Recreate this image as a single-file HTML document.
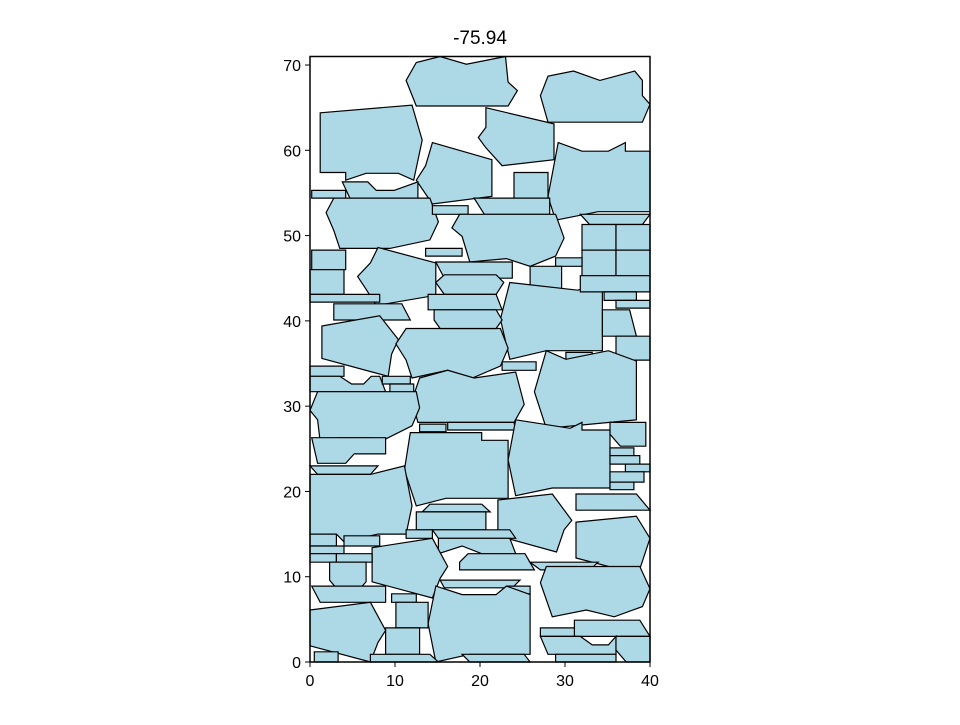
<!DOCTYPE html>
<html><head><meta charset="utf-8"><style>
html,body{margin:0;padding:0;background:#fff;}
svg text{font-family:"Liberation Sans","DejaVu Sans",sans-serif;}
</style></head><body>
<svg id="chart" width="960" height="720" viewBox="0 0 960 720" xmlns="http://www.w3.org/2000/svg">
<rect width="960" height="720" fill="#fff"/>
<text x="480" y="44" font-size="19" text-anchor="middle">-75.94</text>
<g id="polys"></g>
<g id="axes"></g>
</svg>
<script>
const xTicks=[0,10,20,30,40];
const yTicks=[0,10,20,30,40,50,60,70];
const xDomain=[0,40];
const yDomain=[0,71];
const polygons=[
[[11.3,68.2],[12.5,70.3],[15.3,71],[18.4,70.1],[23,71],[23.3,68],[24.4,67],[23.3,65.2],[12.5,65.2]],
[[27.1,66.4],[28,68.7],[31,69.3],[34.1,68.2],[38.2,69.3],[39.1,68.2],[39.1,66.4],[40,65.4],[39.1,63.3],[28,63.3]],
[[1.2,64.4],[12,65.3],[13.2,61.2],[12.2,56.5],[10.4,57.3],[6.6,57.3],[4.2,56.5],[4.2,57.4],[1.2,57.4]],
[[20.7,65],[28.7,63.1],[28.7,58.9],[22.6,58.2],[20.7,60.3],[19.8,61.5],[20.7,62.7]],
[[14.4,60.9],[21.4,58.9],[21.4,54.6],[14.4,53.7],[12.5,56.5],[13.6,58.2]],
[[29.2,60.9],[32,59.9],[35.1,59.9],[37.1,60.9],[37.1,59.9],[40,59.9],[40,52.8],[33.9,52.8],[28.9,51.8],[28,54.6]],
[[24,57.4],[28,57.4],[28,54.4],[24,54.4]],
[[0.2,55.3],[4.2,55.3],[4.2,54.4],[0.2,54.4]],
[[3.8,56.3],[6.8,56.3],[7.8,55.3],[9.9,55.3],[12.7,56.3],[12.7,54.4],[4.7,54.4]],
[[2.8,54.4],[14.1,54.4],[15.1,51.6],[14.1,49.5],[9.4,48.5],[3.5,48.5],[2.8,50.6],[1.9,52.7]],
[[14.4,53.5],[18.6,53.5],[18.6,52.5],[14.4,52.5]],
[[19.3,54.4],[28.2,54.4],[28.2,52.5],[20.5,52.5]],
[[17.6,52.5],[28.9,52.5],[29.9,49.7],[28.9,47.6],[25.9,46.4],[23.1,47.3],[18.8,46.9],[17.9,49.9],[16.7,50.9]],
[[31.8,52.5],[40,52.5],[39.1,51.3],[32.9,51.3]],
[[32,51.3],[36,51.3],[36,48.3],[32,48.3]],
[[36,51.3],[40,51.3],[40,48.3],[36,48.3]],
[[32,48.3],[36,48.3],[36,45.3],[32,45.3]],
[[36,48.3],[40,48.3],[40,45.3],[36,45.3]],
[[0.2,48.3],[4.2,48.3],[4.2,46],[0.2,46]],
[[0,46],[4,46],[4,43.1],[0,43.1]],
[[8,48.6],[14.8,46.8],[14.8,43],[7.8,41.8],[6.6,43.7],[5.6,45.2],[7.1,46.8]],
[[13.6,48.5],[17.9,48.5],[17.9,47.6],[13.6,47.6]],
[[28.9,47.4],[32,47.4],[32,46.4],[28.9,46.4]],
[[14.8,46.9],[23.8,46.9],[23.8,45],[15.8,45]],
[[25.9,46.4],[29.6,46.4],[29.6,43.4],[25.9,43.4]],
[[14.8,44.5],[15.8,45.4],[21.9,45.4],[22.8,44.5],[21.9,43.1],[15.8,43.1]],
[[13.9,43.1],[21.9,43.1],[22.6,41.3],[13.9,41.3]],
[[23.5,44.5],[31.5,43.6],[34.4,44.5],[34.4,36.5],[27.8,36.5],[23.5,35.5],[22.4,40.2]],
[[31.8,45.3],[40,45.3],[40,43.4],[31.8,43.4]],
[[34.6,43.4],[38.4,43.4],[38.4,42.4],[34.6,42.4]],
[[36,42.4],[40,42.4],[40,41.5],[36,41.5]],
[[0,43.1],[8.2,43.1],[8.2,42.2],[0,42.2]],
[[2.8,42],[10.8,42],[11.8,40.1],[2.8,40.1]],
[[1.4,39.4],[8.2,40.6],[10.4,37.8],[9.6,36.1],[9.2,33.5],[7.3,34],[1.4,35.6]],
[[11.3,39.1],[22.4,39.1],[23.3,36.8],[22.4,34.7],[19.1,33.3],[16.2,34.2],[12,33.3],[11.3,35.4],[10.1,37.3]],
[[14.6,41.3],[21.9,41.3],[22.6,40.1],[21.9,39.1],[15.3,39.1],[14.6,40.1]],
[[34.4,41.3],[37.6,41.3],[38.4,38.2],[34.4,38.2]],
[[36,38.2],[40,38.2],[40,35.4],[36,35.4]],
[[30.1,36.3],[33.2,36.3],[33.2,35.4],[30.1,35.4]],
[[22.6,35.2],[26.6,35.2],[26.6,34.2],[22.6,34.2]],
[[27.8,36.5],[30.1,35.5],[35.1,36.5],[38.4,35.3],[38.4,28.4],[27.8,27.4],[26.4,31.7]],
[[0,34.7],[4,34.7],[4,33.5],[0,33.5]],
[[0,33.5],[3.5,33.5],[4.9,32.6],[6.3,32.6],[7.2,33.5],[8.2,33.5],[8.9,31.7],[0,31.7]],
[[8.5,33.5],[11.8,33.5],[11.8,32.6],[8.5,32.6]],
[[9.4,32.6],[12.2,32.6],[12.2,31.4],[9.4,31.4]],
[[12.9,33.3],[16.2,34.2],[19.3,33.3],[24.2,34],[25.2,30.2],[24,28.1],[12.7,28.1],[12,30.7]],
[[0.9,31.7],[12.5,31.7],[12.9,29.8],[12,27.7],[8.2,25.8],[4.2,26.3],[1.2,25.8],[0.9,28.4],[0,29.5]],
[[12.9,27.9],[16,27.9],[16,27],[12.9,27]],
[[16.2,28.1],[24,28.1],[24.2,27.2],[16.2,27.2]],
[[11.8,26.9],[20.2,26.9],[20.2,26],[23.3,26],[23.3,19.2],[16,19.2],[12.5,18.3],[11.1,22.5]],
[[24.2,28.4],[30.6,27.4],[32,28.1],[32,27.2],[35.3,27.2],[35.3,20.4],[28.5,20.4],[24.2,19.5],[23.3,23.7]],
[[35.3,28.1],[39.5,28.1],[39.5,25.3],[36.5,25.3],[35.3,26.7]],
[[35.3,25.1],[38.1,25.1],[38.1,24.2],[35.3,24.2]],
[[35.3,24.2],[38.8,24.2],[38.8,23.2],[35.3,23.2]],
[[37.1,23.2],[40,23.2],[40,22.3],[37.1,22.3]],
[[35.3,22.3],[39.3,22.3],[39.3,21.1],[35.3,21.1]],
[[35.3,21.1],[38.1,21.1],[38.1,20.2],[35.3,20.2]],
[[3.3,26.3],[7.3,26.3],[7.3,25.3],[3.3,25.3]],
[[0.2,26.3],[8.9,26.3],[8.9,24.4],[5.2,24.4],[4.2,23.3],[0.9,23.3]],
[[0,23],[8,23],[7.1,22],[0.9,22]],
[[0,22],[7.1,22],[11.1,23],[12,18.3],[11.3,15],[8,15],[4,14.1],[3.1,15],[0,15]],
[[31.3,19.7],[38.4,19.7],[40,17.8],[31.3,17.8]],
[[22.1,19],[28.5,19.7],[30.8,16.6],[29.9,15.5],[29,12.9],[22.1,14.8]],
[[31.3,16.4],[38.4,17.1],[40,14.5],[38.6,10.3],[31.3,12.2]],
[[14.1,18.5],[20.2,18.5],[21.2,17.6],[13.2,17.6]],
[[12.5,17.6],[20.7,17.6],[20.7,15.5],[12.5,15.5]],
[[11.3,15.5],[14.4,15.5],[14.4,14.5],[11.3,14.5]],
[[14.4,15.5],[23.5,15.5],[24.2,14.5],[15.1,14.5]],
[[15.1,14.5],[23.5,14.5],[24.2,12.7],[20.2,12.7],[17.9,13.6],[15.1,12.7]],
[[7.3,13.4],[14.4,14.5],[16.2,11.2],[15.3,9.8],[14.4,7.5],[7.3,9.4]],
[[17.6,11.7],[18.6,12.7],[25.3,12.7],[26.4,10.8],[17.6,10.8]],
[[25.9,11.7],[33.9,11.7],[32.9,10.8],[27.1,10.8]],
[[27.8,11.2],[38.8,11.2],[40,8.6],[39.1,6.5],[35.8,5.3],[32.5,6.1],[28.5,5.3],[27.1,9.3]],
[[15.3,9.6],[24.7,9.6],[23.8,8.7],[15.8,8.7]],
[[23.1,8.9],[25.9,8.9],[25.9,8],[23.1,8]],
[[14.8,8.9],[17.9,7.9],[21.9,7.9],[23.1,8.9],[25.9,7.9],[25.9,0.9],[18.8,0.9],[14.8,0],[13.9,4.5]],
[[0,15],[3.1,15],[3.1,13.6],[0,13.6]],
[[4,14.8],[8.2,14.8],[8.2,13.6],[4,13.6]],
[[0,13.6],[4,13.6],[4,12.7],[0,12.7]],
[[0,12.7],[3.1,12.7],[3.1,11.7],[0,11.7]],
[[3.1,12.7],[7.3,12.7],[7.3,11.7],[3.1,11.7]],
[[2.3,11.7],[6.6,11.7],[6.6,9.4],[5.7,8.4],[3.3,8.4],[2.3,9.6]],
[[0.2,8.9],[8.9,8.9],[8.9,7],[1.2,7]],
[[0,6.1],[7.1,7],[8.9,3.7],[8,2.3],[7.1,0],[0,1.9]],
[[9.6,8],[12.5,8],[12.5,7],[9.6,7]],
[[10.1,7],[13.9,7],[13.9,4],[10.1,4]],
[[8.9,4],[12.9,4],[12.9,0.9],[8.9,0.9]],
[[7.1,0.9],[14.1,0.9],[15.1,0],[7.1,0]],
[[17.9,0.9],[25.2,0.9],[25.9,0],[18.8,0]],
[[0.5,1.2],[3.3,1.2],[3.3,0],[0.5,0]],
[[31.1,4.9],[38.8,4.9],[40,3],[31.1,3]],
[[27.1,4],[31.1,4],[31.1,3],[27.1,3]],
[[27.1,3],[31.8,3],[33.2,2],[35.1,2],[36,3],[36,0.9],[28,0.9]],
[[36,3],[40,3],[40,0],[37.2,0],[36,1.4]],
[[28.9,0.9],[36,0.9],[36,0],[28.9,0]]
];
const L=310,R=650,T=56.5,B=662;
function sx(v){return L+(v-xDomain[0])/(xDomain[1]-xDomain[0])*(R-L);}
function sy(v){return B-(v-yDomain[0])/(yDomain[1]-yDomain[0])*(B-T);}
const NS="http://www.w3.org/2000/svg";
const pg=document.getElementById('polys');
polygons.forEach((p,i)=>{
  const el=document.createElementNS(NS,'polygon');
  el.setAttribute('points',p.map(q=>sx(q[0]).toFixed(1)+','+sy(q[1]).toFixed(1)).join(' '));
  el.setAttribute('fill','#add8e6');el.setAttribute('stroke','#000');el.setAttribute('stroke-width','1.2');
  
  
  pg.appendChild(el);
});
const ax=document.getElementById('axes');
const fr=document.createElementNS(NS,'rect');
fr.setAttribute('x',L);fr.setAttribute('y',T);fr.setAttribute('width',R-L);fr.setAttribute('height',B-T);
fr.setAttribute('fill','none');fr.setAttribute('stroke','#000');fr.setAttribute('stroke-width','1.5');


ax.appendChild(fr);
xTicks.forEach(t=>{
  const x=sx(t);
  const l=document.createElementNS(NS,'line');
  l.setAttribute('x1',x);l.setAttribute('x2',x);l.setAttribute('y1',B);l.setAttribute('y2',B+5);l.setAttribute('stroke','#000');
  
  
  ax.appendChild(l);
  const tx=document.createElementNS(NS,'text');
  tx.setAttribute('x',x);tx.setAttribute('y',B+24);tx.setAttribute('font-size','16');tx.setAttribute('text-anchor','middle');
  tx.textContent=t;
  
  
  ax.appendChild(tx);
});
yTicks.forEach(t=>{
  const y=sy(t);
  const l=document.createElementNS(NS,'line');
  l.setAttribute('x1',L-5);l.setAttribute('x2',L);l.setAttribute('y1',y);l.setAttribute('y2',y);l.setAttribute('stroke','#000');
  
  
  ax.appendChild(l);
  const tx=document.createElementNS(NS,'text');
  tx.setAttribute('x',L-9);tx.setAttribute('y',y+6);tx.setAttribute('font-size','16');tx.setAttribute('text-anchor','end');
  tx.textContent=t;
  
  
  ax.appendChild(tx);
});
</script>
</body></html>
